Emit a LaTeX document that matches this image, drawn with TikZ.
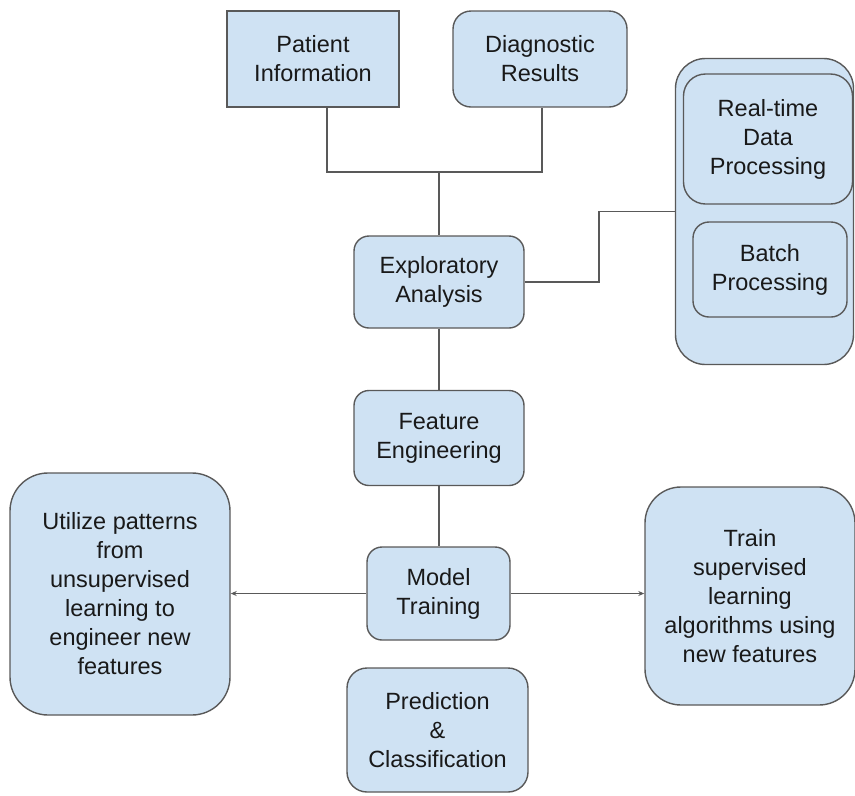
\documentclass[tikz,border=0pt]{standalone}
\usepackage{fontspec}
\setmainfont{Liberation Sans}
\usetikzlibrary{arrows.meta}
\definecolor{boxc}{HTML}{CFE2F3}
\definecolor{linec}{HTML}{595959}
\begin{document}
\begin{tikzpicture}[x=1pt,y=-1pt,
  box/.style={draw=linec, fill=boxc, line width=1.4pt, align=center, inner sep=0pt,
    font=\fontsize{23.5}{29}\selectfont, text=black!90},
  conn/.style={draw=linec, line width=1.4pt},
  arr/.style={conn, -{Stealth[length=6pt,width=5pt]}}]
\useasboundingbox (0,0) rectangle (855,796);
% container
\node[box, minimum width=178pt, minimum height=306pt, rounded corners=30pt] (cont) at (764.5,211.5) {};
\node[box, minimum width=169pt, minimum height=130pt, rounded corners=22pt] (rt) at (768,139) {Real-time\\Data\\Processing};
\node[box, minimum width=154pt, minimum height=95pt, rounded corners=16pt] (bp) at (770,269.5) {Batch\\Processing};
% top
\node[box, minimum width=172pt, minimum height=96pt] (pi) at (313,59) {Patient\\Information};
\node[box, minimum width=174pt, minimum height=96pt, rounded corners=18pt] (dr) at (540,59) {Diagnostic\\Results};
% center column
\node[box, minimum width=170pt, minimum height=92pt, rounded corners=15pt] (ea) at (439,282) {Exploratory\\Analysis};
\node[box, minimum width=170pt, minimum height=95pt, rounded corners=15pt] (fe) at (439,438) {Feature\\Engineering};
\node[box, minimum width=143pt, minimum height=93pt, rounded corners=15pt] (mt) at (438.5,593.5) {Model\\Training};
\node[box, minimum width=181pt, minimum height=124pt, rounded corners=20pt] (pc) at (437.5,730) {Prediction\\\&\\Classification};
% sides
\node[box, minimum width=220pt, minimum height=242pt, rounded corners=38pt] (ut) at (120,594) {Utilize patterns\\from\\unsupervised\\learning to\\engineer new\\features};
\node[box, minimum width=210pt, minimum height=218pt, rounded corners=36pt] (tr) at (750,596) {Train\\supervised\\learning\\algorithms using\\new features};
% connectors
\coordinate (j) at (439,172);
\draw[conn] ([xshift=14pt]pi.south) |- (j) -| ([xshift=2pt]dr.south);
\draw[conn] (j) -- (ea.north);
\draw[conn] (ea.east) -| (599,247) |- (cont.west);
\draw[conn] (ea.south) -- (fe.north);
\draw[conn] (fe.south) -- (fe.south |- mt.north);
\draw[arr] (mt.west) -- (mt.west -| ut.east);
\draw[arr] (mt.east) -- (mt.east -| tr.west);
\end{tikzpicture}
\end{document}
